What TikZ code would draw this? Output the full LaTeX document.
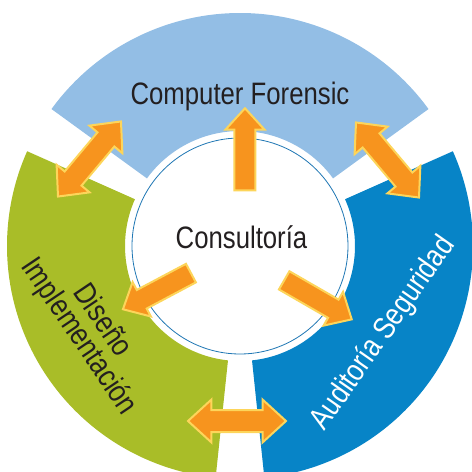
\documentclass[tikz,border=0pt]{standalone}
\usepackage{fontspec}
\setmainfont{Liberation Sans}[FakeStretch=0.83]
\usepackage{tikz}
\usetikzlibrary{shapes.arrows}

\definecolor{forensicblue}{HTML}{93BEE5}
\definecolor{designgreen}{HTML}{A9BD28}
\definecolor{auditblue}{HTML}{0784C7}
\definecolor{arroworange}{HTML}{F7941E}
\definecolor{arrowrim}{HTML}{FDD55A}
\definecolor{ringline}{HTML}{1F77B4}
\definecolor{labelgray}{HTML}{231F20}

\begin{document}
\begin{tikzpicture}[
    x=1pt, y=1pt,
    sectortext/.style={font=\fontsize{31}{28}\selectfont, text=labelgray, align=center, inner sep=0pt},
    outarrow/.style={single arrow, draw=arrowrim, fill=arroworange, line width=2pt, inner xsep=0pt, inner ysep=9.5pt, single arrow head extend=9pt, single arrow tip angle=85, minimum height=#1},
    linkarrow/.style={double arrow, draw=arrowrim, fill=arroworange, line width=2pt, inner xsep=0pt, inner ysep=10pt, double arrow head extend=10.5pt, double arrow tip angle=85, minimum height=#1}
]
    \clip (-240,-226) rectangle (232,246);

    % Sectors
    \fill[forensicblue] (36:115) -- (36:233) arc[start angle=36, end angle=144, radius=233] -- (144:115) arc[start angle=144, end angle=36, radius=115] -- cycle;
    \fill[designgreen] (156:115) -- (156:233) arc[start angle=156, end angle=264, radius=233] -- (264:115) arc[start angle=264, end angle=156, radius=115] -- cycle;
    \fill[auditblue] (-84:115) -- (-84:233) arc[start angle=-84, end angle=24, radius=233] -- (24:115) arc[start angle=24, end angle=-84, radius=115] -- cycle;

    % Centre
    \draw[ringline, fill=white, line width=0.8pt] (0,0) coordinate (hub) circle[radius=108];

    % Arrows out of the centre
    \node[outarrow=82pt, rotate=90] (toForensic) at (5,91) {};
    \node[outarrow=77pt, rotate=208] (toDesign) at (-78,-42.5) {};
    \node[outarrow=78pt, rotate=-30] (toAudit) at (73,-51) {};

    % Arrows between sectors
    \node[linkarrow=98pt, rotate=50] (forensicDesign) at (-150.5,87) {};
    \node[linkarrow=98pt, rotate=-50] (forensicAudit) at (147.5,86) {};
    \node[linkarrow=98pt] (designAudit) at (-3,-175) {};

    % Labels
    \node[sectortext, anchor=base] (forensic) at (0,142) {Computer Forensic};
    \node[sectortext, anchor=base] (consult) at (1.5,-2) {Consultoría};
    \node[sectortext, rotate=-56] (design) at (-150,-83) {Diseño\\Implementación};
    \node[sectortext, text=white, rotate=55] (audit) at (143.5,-87.5) {Auditoría Seguridad};

\end{tikzpicture}
\end{document}
